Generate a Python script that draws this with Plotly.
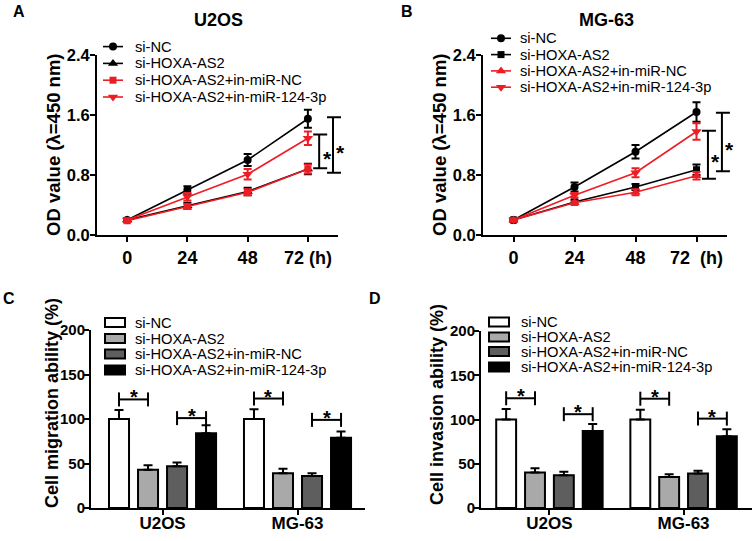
import plotly.graph_objects as go

W, H = 753, 541
FONT = "Liberation Sans"
RED = "#ee1c24"

# ---------------- data ----------------
hours = [0, 24, 48, 72]
hour_ticktext_a = ["0", "24", "48", "72 (h)"]
hour_ticktext_b = ["0", "24", "48", "72\u00a0\u00a0(h)"]
od_ticks = [0.0, 0.8, 1.6, 2.4]
pct_ticks = [0, 50, 100, 150, 200]
groups = ["si-NC", "si-HOXA-AS2", "si-HOXA-AS2+in-miR-NC", "si-HOXA-AS2+in-miR-124-3p"]

# Panel A: U2OS CCK-8
u2os_si_nc = [0.20, 0.60, 1.00, 1.55]
u2os_si_hoxa = [0.20, 0.39, 0.58, 0.88]
u2os_inmir_nc = [0.19, 0.38, 0.57, 0.88]
u2os_inmir_124 = [0.20, 0.51, 0.81, 1.29]
u2os_err_si_nc = [0.02, 0.05, 0.08, 0.12]
u2os_err_si_hoxa = [0.02, 0.04, 0.05, 0.07]
u2os_err_inmir_nc = [0.02, 0.03, 0.04, 0.06]
u2os_err_inmir_124 = [0.02, 0.05, 0.07, 0.09]

# Panel B: MG-63 CCK-8
mg63_si_nc = [0.20, 0.64, 1.11, 1.64]
mg63_si_hoxa = [0.20, 0.44, 0.64, 0.87]
mg63_inmir_nc = [0.20, 0.43, 0.57, 0.79]
mg63_inmir_124 = [0.20, 0.53, 0.83, 1.38]
mg63_err_si_nc = [0.02, 0.06, 0.09, 0.13]
mg63_err_si_hoxa = [0.02, 0.03, 0.04, 0.07]
mg63_err_inmir_nc = [0.02, 0.02, 0.04, 0.05]
mg63_err_inmir_124 = [0.02, 0.03, 0.06, 0.11]

# significance brackets on line panels (hour position, low, high)
line_bracket_hours = [76.5, 82.0]
u2os_bracket_low = [0.89, 0.83]
u2os_bracket_high = [1.34, 1.57]
mg63_bracket_low = [0.75, 0.85]
mg63_bracket_high = [1.39, 1.63]

# Panels C/D: transwell
cells = ["U2OS", "MG-63"]
migration_si_nc = [100, 100]
migration_si_hoxa = [43, 39]
migration_inmir_nc = [47, 36]
migration_inmir_124 = [84, 79]
migration_err_si_nc = [10, 11]
migration_err_si_hoxa = [5, 5]
migration_err_inmir_nc = [4, 3]
migration_err_inmir_124 = [9, 7]

invasion_si_nc = [100, 100]
invasion_si_hoxa = [40, 35]
invasion_inmir_nc = [37, 39]
invasion_inmir_124 = [87, 81]
invasion_err_si_nc = [12, 11]
invasion_err_si_hoxa = [5, 3]
invasion_err_inmir_nc = [4, 3]
invasion_err_inmir_124 = [8, 8]

# bracket levels: [cell0 pair(0,1), cell0 pair(2,3), cell1 pair(0,1), cell1 pair(2,3)]
migration_bracket_level = [122, 101, 123, 99]
invasion_bracket_level = [124, 106, 123.5, 101]

# ---------------- layout geometry (pixels) ----------------
P = {
    "A": dict(xd=(97, 338), yd=(235, 55), xr=(-12, 84), yr=(0, 2.4), xa="x", ya="y"),
    "B": dict(xd=(483, 727), yd=(235, 55), xr=(-12, 84), yr=(0, 2.4), xa="x2", ya="y2"),
    "C": dict(xd=(91, 365), yd=(508, 330), xr=(-0.53, 1.5), yr=(0, 200), xa="x3", ya="y3"),
    "D": dict(xd=(481, 752), yd=(508, 331), xr=(-0.51, 1.51), yr=(0, 200), xa="x4", ya="y4"),
}
BARGAP, BARGROUPGAP = 0.14, 0.31
SLOT = (1 - BARGAP) / 4


def px(panel, xv, yv):
    p = P[panel]
    x = p["xd"][0] + (xv - p["xr"][0]) / (p["xr"][1] - p["xr"][0]) * (p["xd"][1] - p["xd"][0])
    y = p["yd"][0] + (yv - p["yr"][0]) / (p["yr"][1] - p["yr"][0]) * (p["yd"][1] - p["yd"][0])
    return x, y


fig = go.Figure()
shapes = []
annotations = []

OV = dict(xaxis="x5", yaxis="y5", showlegend=False, hoverinfo="skip")


def ann(x, y, text, size, xanchor="center", yanchor="middle", angle=0, bold=False):
    annotations.append(dict(
        x=x, y=y, xref="x5", yref="y5", text=("<b>%s</b>" % text) if bold else text,
        showarrow=False, xanchor=xanchor, yanchor=yanchor, textangle=angle,
        font=dict(family=FONT, size=size, color="black")))


def seg(x0, y0, x1, y1, color="black", width=2):
    shapes.append(dict(type="line", xref="x5", yref="y5", x0=x0, y0=y0, x1=x1, y1=y1,
                       line=dict(color=color, width=width)))


# ---------------- line panels ----------------
line_sets = {
    "A": [
        (u2os_si_nc, u2os_err_si_nc, "black", "circle", 8),
        (u2os_si_hoxa, u2os_err_si_hoxa, "black", "triangle-up", 9),
        (u2os_inmir_nc, u2os_err_inmir_nc, RED, "square", 7),
        (u2os_inmir_124, u2os_err_inmir_124, RED, "triangle-down", 9),
    ],
    "B": [
        (mg63_si_nc, mg63_err_si_nc, "black", "circle", 8),
        (mg63_si_hoxa, mg63_err_si_hoxa, "black", "square", 7),
        (mg63_inmir_nc, mg63_err_inmir_nc, RED, "triangle-up", 9),
        (mg63_inmir_124, mg63_err_inmir_124, RED, "triangle-down", 9),
    ],
}
legend_rows = {"A": [46.6, 63.4, 80.2, 97.0], "B": [38.3, 54.6, 70.9, 87.2]}
legend_x = {"A": (103, 123, 133), "B": (491, 511, 518)}

for pan, sets in line_sets.items():
    p = P[pan]
    for (vals, err, col, sym, ms), name, ry in zip(sets, groups, legend_rows[pan]):
        fig.add_trace(go.Scatter(
            x=hours, y=vals, name=name, mode="lines+markers",
            line=dict(color=col, width=1.6),
            marker=dict(symbol=sym, size=ms, color=col),
            error_y=dict(type="data", array=err, thickness=2, width=4, color=col),
            xaxis=p["xa"], yaxis=p["ya"], showlegend=False))
        lx0, lx1, tx = legend_x[pan]
        fig.add_trace(go.Scatter(x=[lx0, lx1], y=[ry, ry], mode="lines",
                                 line=dict(color=col, width=1.6), **OV))
        fig.add_trace(go.Scatter(x=[(lx0 + lx1) / 2], y=[ry], mode="markers",
                                 marker=dict(symbol=sym, size=ms, color=col), **OV))
        ann(tx, ry, name, 14.7, xanchor="left")

# brackets for line panels
for pan, lows, highs in (("A", u2os_bracket_low, u2os_bracket_high),
                         ("B", mg63_bracket_low, mg63_bracket_high)):
    for hx, lo, hi in zip(line_bracket_hours, lows, highs):
        x, ylo = px(pan, hx, lo)
        _, yhi = px(pan, hx, hi)
        seg(x, ylo, x, yhi)
        seg(x - 6, ylo, x + 8, ylo)
        seg(x - 6, yhi, x + 8, yhi)
        ann(x + 8, (ylo + yhi) / 2 + 2 + 5, "*", 21, bold=True)

# ---------------- bar panels ----------------
bar_sets = {
    "C": [
        (migration_si_nc, migration_err_si_nc, "white"),
        (migration_si_hoxa, migration_err_si_hoxa, "#a9a9a9"),
        (migration_inmir_nc, migration_err_inmir_nc, "#5e5e5e"),
        (migration_inmir_124, migration_err_inmir_124, "black"),
    ],
    "D": [
        (invasion_si_nc, invasion_err_si_nc, "white"),
        (invasion_si_hoxa, invasion_err_si_hoxa, "#a9a9a9"),
        (invasion_inmir_nc, invasion_err_inmir_nc, "#5e5e5e"),
        (invasion_inmir_124, invasion_err_inmir_124, "black"),
    ],
}
bar_legend_rows = {"C": [322.5, 338.5, 354.0, 370.0], "D": [322.0, 337.0, 351.5, 367.0]}
bar_legend_x = {"C": (105, 125, 133), "D": (489, 509, 519)}
bar_levels = {"C": migration_bracket_level, "D": invasion_bracket_level}

for pan, sets in bar_sets.items():
    p = P[pan]
    for (vals, err, col), name, ry in zip(sets, groups, bar_legend_rows[pan]):
        fig.add_trace(go.Bar(
            x=[0, 1], y=vals, name=name,
            marker=dict(color=col, line=dict(color="black", width=2)),
            error_y=dict(type="data", array=err, arrayminus=[0] * len(err), symmetric=False,
                         thickness=2, width=4.5, color="black"),
            xaxis=p["xa"], yaxis=p["ya"], showlegend=False))
        bx0, bx1, tx = bar_legend_x[pan]
        shapes.append(dict(type="rect", xref="x5", yref="y5", x0=bx0, x1=bx1,
                           y0=ry - 4.5, y1=ry + 4.5, fillcolor=col,
                           line=dict(color="black", width=2)))
        ann(tx, ry, name, 14.7, xanchor="left")
    levels = bar_levels[pan]
    k = 0
    for g in range(len(cells)):
        for i, j in ((0, 1), (2, 3)):
            lvl = levels[k]
            k += 1
            xa_, yl = px(pan, g + (i - 1.5) * SLOT, lvl)
            xb_, _ = px(pan, g + (j - 1.5) * SLOT, lvl)
            seg(xa_, yl, xb_, yl)
            seg(xa_, yl - 7, xa_, yl + 7)
            seg(xb_, yl - 7, xb_, yl + 7)
            ann((xa_ + xb_) / 2, yl - 7 + 5, "*", 20, bold=True)

# ---------------- text ----------------
ann(19, 11, "A", 16, bold=True)
ann(407, 11, "B", 16, bold=True)
ann(9, 298, "C", 16, bold=True)
ann(375, 298, "D", 16, bold=True)
ann(218, 20, "U2OS", 18, bold=True)
ann(606, 20, "MG-63", 18, bold=True)
ann(53, 145, "OD value (λ=450 nm)", 18.5, angle=-90, bold=True)
ann(439, 145, "OD value (λ=450 nm)", 18.5, angle=-90, bold=True)
ann(52, 403, "Cell migration ability (%)", 18, angle=-90, bold=True)
ann(437, 405, "Cell invasion ability (%)", 18, angle=-90, bold=True)

# ---------------- axes ----------------
common = dict(showline=True, linewidth=2, linecolor="black", ticks="outside", ticklen=5,
              tickwidth=2, tickcolor="black", showgrid=False, zeroline=False,
              fixedrange=True, automargin=False, layer="above traces")

layout_axes = {}
for n, pan in enumerate("ABCD", start=1):
    p = P[pan]
    sfx = "" if n == 1 else str(n)
    xdom = [p["xd"][0] / W, p["xd"][1] / W]
    ydom = [1 - p["yd"][0] / H, 1 - p["yd"][1] / H]
    if pan in "AB":
        xt = dict(tickvals=hours, ticktext=hour_ticktext_a if pan == "A" else hour_ticktext_b,
                  ticklabelstandoff=0,
                  tickfont=dict(family=FONT, size=18, color="black", weight="bold"))
        yt = dict(tickvals=od_ticks, ticktext=["%.1f" % v for v in od_ticks],
                  ticklabelstandoff=-3,
                  tickfont=dict(family=FONT, size=16.5, color="black", weight="bold"))
    else:
        xt = dict(tickvals=[0, 1], ticktext=cells, ticklabelstandoff=-6,
                  tickfont=dict(family=FONT, size=17, color="black", weight="bold"))
        yt = dict(tickvals=pct_ticks, ticktext=[str(v) for v in pct_ticks],
                  ticklabelstandoff=-4,
                  tickfont=dict(family=FONT, size=15, color="black", weight="bold"))
    layout_axes["xaxis" + sfx] = dict(
        domain=xdom, range=list(p["xr"]), anchor="y" + sfx, **xt, **common)
    layout_axes["yaxis" + sfx] = dict(
        domain=ydom, range=list(p["yr"]), anchor="x" + sfx, **yt, **common)

layout_axes["xaxis5"] = dict(domain=[0, 1], range=[0, W], visible=False, anchor="y5",
                             fixedrange=True, automargin=False)
layout_axes["yaxis5"] = dict(domain=[0, 1], range=[H, 0], visible=False, anchor="x5",
                             fixedrange=True, automargin=False)

fig.update_layout(
    template="none",
    width=W, height=H, margin=dict(l=0, r=0, t=0, b=0, pad=0, autoexpand=False),
    paper_bgcolor="white", plot_bgcolor="rgba(0,0,0,0)",
    barmode="group", bargap=BARGAP, bargroupgap=BARGROUPGAP,
    showlegend=False, shapes=shapes, annotations=annotations,
    font=dict(family=FONT, color="black"),
    **layout_axes)

fig.write_html("out.html", config={"displayModeBar": False, "staticPlot": True},
               post_script="document.body.style.margin='0';")
